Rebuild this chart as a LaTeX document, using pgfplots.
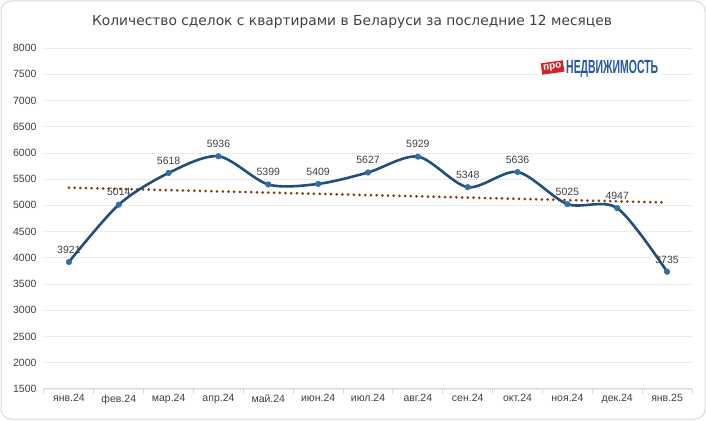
\documentclass[border=0pt]{standalone}
\usepackage{pgfplots}
\pgfplotsset{compat=1.18}
\usepackage{fontspec}
\setmainfont{Liberation Sans}
\newfontfamily\titlefont{DejaVu Sans}
\definecolor{lineblue}{RGB}{33,78,124}
\definecolor{markblue}{RGB}{52,108,168}
\definecolor{trendbrown}{RGB}{135,62,15}
\definecolor{gridgray}{RGB}{217,217,217}
\definecolor{txtgray}{RGB}{64,64,64}
\definecolor{logored}{RGB}{210,35,42}
\definecolor{logoblue}{RGB}{38,88,158}
\begin{document}
\begin{tikzpicture}[x=1pt,y=1pt]
\path[use as bounding box] (0,0) rectangle (706,420);
\draw[gridgray, rounded corners=10pt, line width=1pt] (1,1) rectangle (705,419);
\begin{axis}[
  at={(44pt,31pt)}, anchor=south west, scale only axis,
  width=648pt, height=341pt,
  xmin=-0.5, xmax=12.5, ymin=1500, ymax=8000,
  ytick={1500,2000,...,8000},
  xtick={0,...,12},
  xticklabels={янв.24,фев.24,мар.24,апр.24,май.24,июн.24,июл.24,авг.24,сен.24,окт.24,ноя.24,дек.24,янв.25},
  minor xtick={-0.5,0.5,...,12.5},
  axis x line*=bottom, axis y line*=left,
  y axis line style={draw=none},
  x axis line style={gridgray, line width=1pt, -},
  major tick length=0pt, minor tick length=5pt, tick align=outside,
  minor tick style={gridgray, line width=1pt},
  ymajorgrids,
  major grid style={gridgray, line width=0.8pt, dash pattern=on 1pt off 1pt},
  /pgf/number format/1000 sep={},
  /pgf/number format/assume math mode=true,
  ticklabel style={font=\fontsize{10.5}{12}\selectfont, text=txtgray},
  xticklabel style={yshift=-2pt},
  yticklabel style={xshift=-4pt},
  clip=false,
]
\addplot[trendbrown, line width=3pt, dash pattern=on 0pt off 5.7pt, line cap=round] coordinates {(0,5338) (12,5054)};
\addplot[lineblue, line width=2.6pt, smooth, tension=0.5,
  mark=*, mark size=2.8pt, mark options={fill=markblue, draw=markblue, line width=0.5pt},
  nodes near coords={\pgfmathprintnumber[fixed,precision=0,1000 sep={}]{\pgfplotspointmeta}},
  nodes near coords style={font=\fontsize{10.5}{12}\selectfont, text=txtgray, anchor=south, yshift=5pt},
  point meta=y]
coordinates {(0,3921) (1,5014) (2,5618) (3,5936) (4,5399) (5,5409) (6,5627) (7,5929) (8,5348) (9,5636) (10,5025) (11,4947) (12,3735)};
\end{axis}
\node[text=txtgray, font=\titlefont\fontsize{13.8}{16}\selectfont] at (352,398) {Количество сделок с квартирами в Беларуси за последние 12 месяцев};
\fill[white] (540,341) rectangle (662,363);
\node[fill=logored, rotate=8, text=white, font=\fontsize{10}{10}\selectfont\bfseries, inner xsep=2pt, inner ysep=2pt] at (552.5,352.5) {про};
\node[anchor=west, text=logoblue, inner sep=0pt] at (566,351.5) {\scalebox{0.55}[1]{\fontsize{19}{19}\selectfont\bfseries НЕДВИЖИМОСТЬ}};
\end{tikzpicture}
\end{document}
